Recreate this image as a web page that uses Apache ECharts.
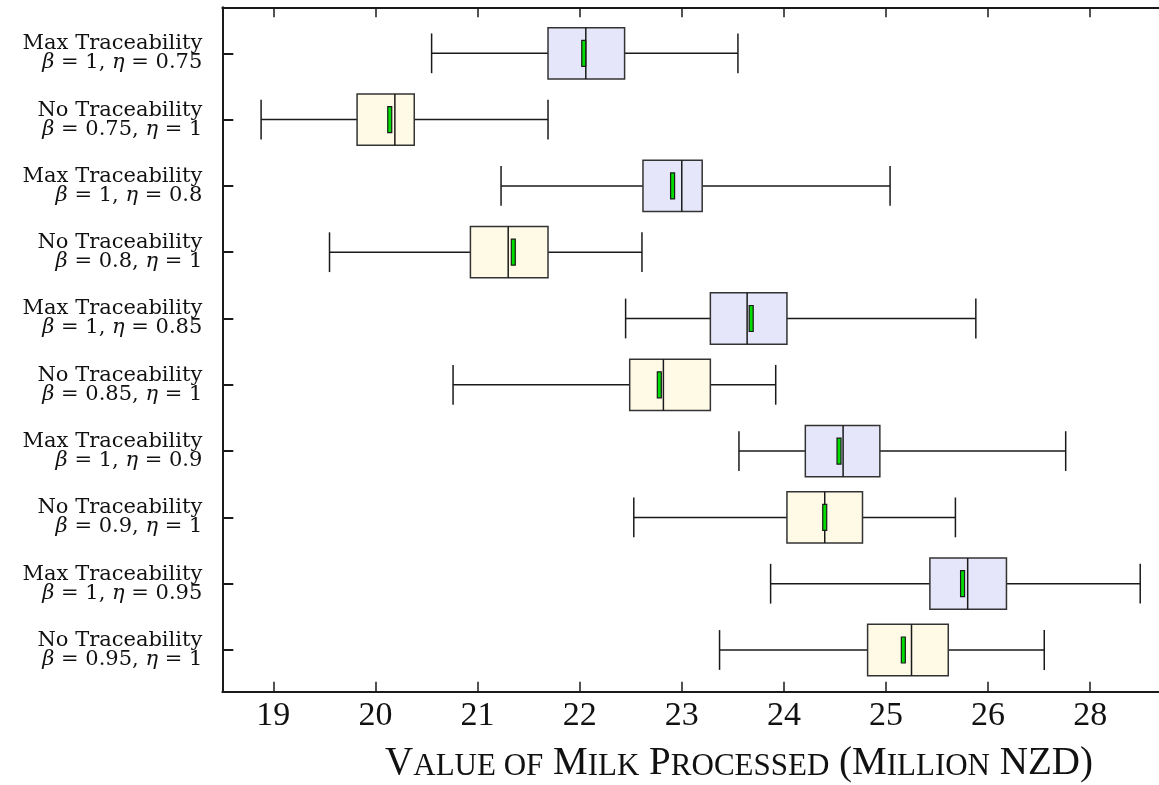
<!DOCTYPE html>
<html>
<head>
<meta charset="utf-8">
<script src="https://cdn.jsdelivr.net/npm/echarts@6/dist/echarts.min.js"></script>
<style>
html,body{margin:0;padding:0;background:#fff;}
#chart{width:1159px;height:785px;}
</style>
</head>
<body>
<div id="chart"></div>
<script>
// ---- data (top to bottom) ----
const groupNames = ['Max Traceability','No Traceability','Max Traceability','No Traceability','Max Traceability','No Traceability','Max Traceability','No Traceability','Max Traceability','No Traceability'];
const betaLabels = ['1','0.75','1','0.8','1','0.85','1','0.9','1','0.95'];
const etaLabels  = ['0.75','1','0.8','1','0.85','1','0.9','1','0.95','1'];
const whiskerLow  = [20.55, 18.88, 21.23, 19.55, 22.45, 20.76, 23.56, 22.53, 23.87, 23.37];
const quartile1   = [21.69, 19.82, 22.62, 20.93, 23.28, 22.49, 24.21, 24.03, 25.43, 24.82];
const medianVals  = [22.06, 20.19, 23.00, 21.30, 23.64, 22.82, 24.58, 24.40, 25.80, 25.25];
const quartile3   = [22.44, 20.38, 23.20, 21.69, 24.03, 23.28, 24.94, 24.77, 26.18, 25.61];
const whiskerHigh = [23.55, 21.69, 25.04, 22.61, 25.88, 23.92, 26.76, 25.68, 27.49, 26.55];
const meanVals    = [22.04, 20.14, 22.91, 21.35, 23.68, 22.78, 24.54, 24.40, 25.75, 25.17];
const xTickValues = [19, 20, 21, 22, 23, 24, 25, 26, 27];
const xTickLabels = ['19','20','21','22','23','24','25','26','28'];
const rowIndex = [0,1,2,3,4,5,6,7,8,9];

const boxColors = {'Max Traceability':'#e6e6fa','No Traceability':'#fffae6'};

const seriesData = rowIndex.map(i => [i, whiskerLow[i], quartile1[i], medianVals[i], quartile3[i], whiskerHigh[i], meanVals[i]]);

const chart = echarts.init(document.getElementById('chart'), null, {renderer:'canvas'});

function renderItem(params, api) {
  const i = api.value(0);
  const rowPx = api.size([0, 1])[1];
  const boxHalf = rowPx * 0.387;
  const capHalf = rowPx * 0.30;
  const meanHalf = rowPx * 0.196;
  const pLo = api.coord([api.value(1), i]);
  const pQ1 = api.coord([api.value(2), i]);
  const pMed = api.coord([api.value(3), i]);
  const pQ3 = api.coord([api.value(4), i]);
  const pHi = api.coord([api.value(5), i]);
  const pMean = api.coord([api.value(6), i]);
  const cy = pMed[1];
  const lineStyle = {stroke:'#1a1a1a', lineWidth:1.5, fill:null};
  return {
    type:'group',
    children:[
      {type:'line', shape:{x1:pLo[0], y1:cy, x2:pQ1[0], y2:cy}, style:lineStyle},
      {type:'line', shape:{x1:pQ3[0], y1:cy, x2:pHi[0], y2:cy}, style:lineStyle},
      {type:'line', shape:{x1:pLo[0], y1:cy-capHalf, x2:pLo[0], y2:cy+capHalf}, style:lineStyle},
      {type:'line', shape:{x1:pHi[0], y1:cy-capHalf, x2:pHi[0], y2:cy+capHalf}, style:lineStyle},
      {type:'rect', shape:{x:pQ1[0], y:cy-boxHalf, width:pQ3[0]-pQ1[0], height:boxHalf*2},
        style:{fill:boxColors[groupNames[i]], stroke:'#333', lineWidth:1.5}},
      {type:'line', shape:{x1:pMed[0], y1:cy-boxHalf, x2:pMed[0], y2:cy+boxHalf}, style:lineStyle},
      {type:'rect', shape:{x:pMean[0]-2, y:cy-meanHalf, width:4, height:meanHalf*2},
        style:{fill:'#00dd00', stroke:'#1a1a1a', lineWidth:1.2}}
    ]
  };
}

const option = {
  animation:false,
  backgroundColor:'#fff',
  grid:{left:222.3, top:7.3, width:970, height:684.4, containLabel:false, outerBoundsMode:'none'},
  xAxis:[{
    type:'value', position:'bottom', min:18.5, max:28,
    splitLine:{show:false},
    axisLine:{show:true, onZero:false, lineStyle:{color:'#1a1a1a', width:2}},
    axisTick:{show:true, inside:true, length:10, customValues:xTickValues, lineStyle:{color:'#1a1a1a', width:1.5}},
    axisLabel:{show:true, customValues:xTickValues, margin:7, color:'#111',
      fontFamily:'Liberation Serif', fontSize:34,
      formatter:function(v){ const k = xTickValues.indexOf(Math.round(v)); return k>=0 ? xTickLabels[k] : ''; }}
  },{
    type:'value', position:'top', min:18.5, max:28,
    splitLine:{show:false},
    axisLine:{show:true, onZero:false, lineStyle:{color:'#1a1a1a', width:2}},
    axisTick:{show:true, inside:true, length:10, customValues:xTickValues, lineStyle:{color:'#1a1a1a', width:1.5}},
    axisLabel:{show:false}
  }],
  yAxis:{
    type:'value', inverse:true, min:-0.694, max:9.629,
    splitLine:{show:false},
    axisLine:{show:true, onZero:false, lineStyle:{color:'#1a1a1a', width:2}},
    axisTick:{show:true, inside:true, length:11, customValues:rowIndex, lineStyle:{color:'#1a1a1a', width:2}},
    axisLabel:{show:true, customValues:rowIndex, margin:20, align:'right', color:'#111',
      fontFamily:'DejaVu Serif', fontSize:21, lineHeight:19,
      formatter:function(v){
        const i = Math.round(v);
        return groupNames[i] + '\n{i|\u03b2} = ' + betaLabels[i] + ', {i|\u03b7} = ' + etaLabels[i];
      },
      rich:{i:{fontFamily:'DejaVu Serif', fontStyle:'italic', fontSize:21, lineHeight:19, color:'#111'}}
    }
  },
  graphic:[{
    type:'text', x:739, y:761,
    style:{
      text:'{b|V}{s|ALUE OF} {b|M}{s|ILK} {b|P}{s|ROCESSED} {b|(M}{s|ILLION} {b|NZD)}',
      align:'center', verticalAlign:'middle',
      fill:'#111', fontFamily:'Liberation Serif', fontSize:39,
      rich:{
        b:{fontFamily:'Liberation Serif', fontSize:39, verticalAlign:'bottom', fill:'#111', lineHeight:44},
        s:{fontFamily:'Liberation Serif', fontSize:31, verticalAlign:'bottom', fill:'#111', lineHeight:44, padding:[0,0,1,0]}
      }
    }
  }],
  series:[{
    type:'custom', renderItem:renderItem, data:seriesData,
    encode:{x:[1,2,3,4,5,6], y:0}, clip:false, z:5
  }]
};
chart.setOption(option);
</script>
</body>
</html>
